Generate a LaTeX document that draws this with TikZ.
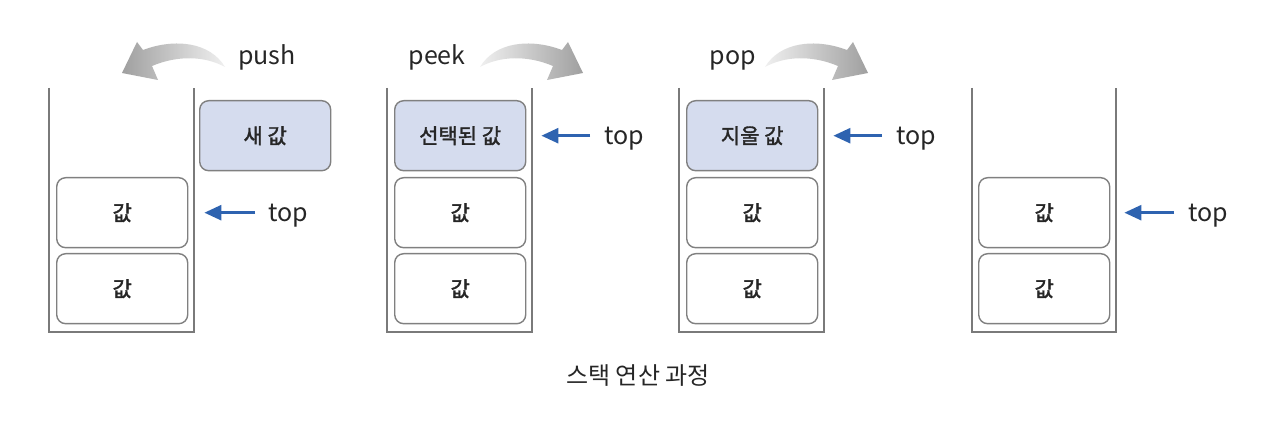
\documentclass[tikz,border=0pt]{standalone}
\usepackage{fontspec}
\setmainfont{Noto Sans CJK KR}
\newfontfamily\krb{Noto Sans CJK KR}[UprightFeatures={FakeBold=1.6}]
\usetikzlibrary{arrows.meta}
\definecolor{hl}{HTML}{D5DCEE}
\definecolor{bd}{HTML}{808080}
\definecolor{wallc}{HTML}{7A7A7A}
\definecolor{ab}{HTML}{2E63B0}
\begin{document}
\begin{tikzpicture}[x=1pt,y=-1pt,
  cell/.style={draw=bd, line width=1.4pt, rounded corners=9pt, minimum width=131pt,
    minimum height=70pt, inner sep=0pt, fill=white, anchor=north west,
    font=\krb\fontsize{21}{21}\selectfont, text=black!85},
  hcell/.style={cell, fill=hl},
  wallline/.style={draw=wallc, line width=1.4pt},
  toplbl/.style={anchor=base west, inner sep=0pt, font=\fontsize{25}{25}\selectfont, text=black!85},
  oplbl/.style={anchor=base, inner sep=0pt, font=\fontsize{25}{25}\selectfont, text=black!85},
  barrow/.style={draw=ab, line width=2.6pt, -{Triangle[length=17pt,width=15pt]}},
  gshape/.pic={
    \path[pic actions]
      (0,0) .. controls (15,-25) and (50,-29) .. (82,-17) -- (88,-25) -- (103,6)
      -- (67,13) -- (73,-1) .. controls (47,-12) and (20,-11) .. (0,0) -- cycle;
  },
  gright/.style={left color=gray!12, right color=gray!75},
  gleft/.style={left color=gray!75, right color=gray!12}]
\useasboundingbox (0,0) rectangle (1286,430);
\fill[white] (0,0) rectangle (1286,430);

% stack 1 (push)
\draw[wallline] (49,88) -- (49,332) -- (194,332) -- (194,88);
\node[cell] (s1b) at (56,253) {값};
\node[cell] (s1a) at (56,177) {값};
\node[hcell] (new) at (199,100) {새 값};
\node[toplbl] (t1) at (268,222) {top};
\draw[barrow, shorten <=13pt, shorten >=16pt] (t1.west |- s1a.east) -- (s1a.east);
\node[oplbl] (push) at (267,65) {push};
\pic[xscale=-1, gleft] at (225,67) {gshape};

% stack 2 (peek)
\draw[wallline] (387,88) -- (387,332) -- (532,332) -- (532,88);
\node[cell] (s2c) at (394,253) {값};
\node[cell] (s2b) at (394,177) {값};
\node[hcell] (s2a) at (394,100) {선택된 값};
\node[toplbl] (t2) at (604,145) {top};
\draw[barrow, shorten <=14pt, shorten >=15pt] (t2.west |- s2a.east) -- (s2a.east);
\node[oplbl] (peek) at (437,65) {peek};
\pic[gright] at (480,67) {gshape};

% stack 3 (pop)
\draw[wallline] (679,88) -- (679,332) -- (824,332) -- (824,88);
\node[cell] (s3c) at (686,253) {값};
\node[cell] (s3b) at (686,177) {값};
\node[hcell] (s3a) at (686,100) {지울 값};
\node[toplbl] (t3) at (896,145) {top};
\draw[barrow, shorten <=14pt, shorten >=15pt] (t3.west |- s3a.east) -- (s3a.east);
\node[oplbl] (pop) at (733,65) {pop};
\pic[gright] at (765,67) {gshape};

% stack 4
\draw[wallline] (972,88) -- (972,332) -- (1116,332) -- (1116,88);
\node[cell] (s4b) at (978,253) {값};
\node[cell] (s4a) at (978,177) {값};
\node[toplbl] (t4) at (1188,222) {top};
\draw[barrow, shorten <=14pt, shorten >=14pt] (t4.west |- s4a.east) -- (s4a.east);

\node[font=\fontsize{24}{24}\selectfont, text=black!85] (cap) at (638,376) {스택 연산 과정};
\end{tikzpicture}
\end{document}
